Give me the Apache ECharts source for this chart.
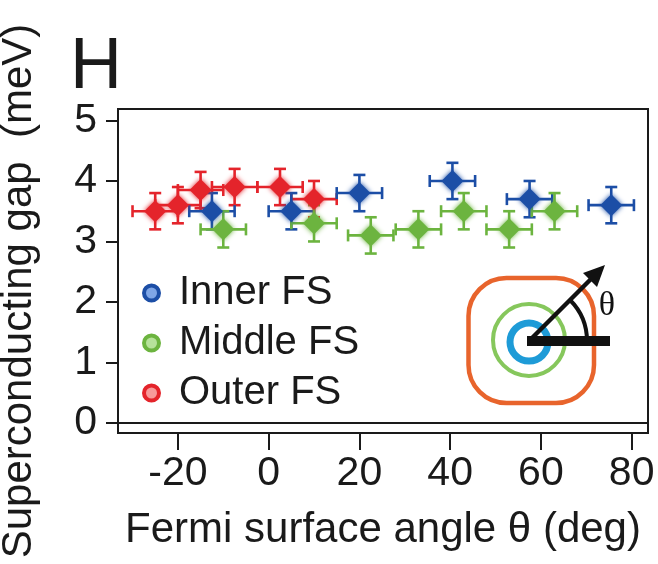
<!DOCTYPE html>
<html>
<head>
<meta charset="utf-8">
<script src="https://cdn.jsdelivr.net/npm/echarts@6/dist/echarts.min.js"></script>
<style>html,body{margin:0;padding:0;background:#fff}#c{width:658px;height:564px}</style>
</head>
<body>
<div id="c"></div>
<script>
// ---- data ----
const seriesNames = ['Inner FS', 'Middle FS', 'Outer FS'];
const innerTheta = [-12.5, 5, 20, 40.5, 57.5, 75.5];
const innerGap   = [3.5, 3.5, 3.8, 4.0, 3.7, 3.6];
const middleTheta = [-10, 10, 22.5, 33, 43, 53, 63];
const middleGap   = [3.2, 3.3, 3.1, 3.2, 3.5, 3.2, 3.5];
const outerTheta = [-25, -20, -15, -7.5, 2.5, 10];
const outerGap   = [3.5, 3.6, 3.85, 3.9, 3.9, 3.7];
const thetaErr = 5;      // deg, horizontal error bar half-width
const gapErr = 0.3;      // meV, vertical error bar half-height
const xTicks = [-20, 0, 20, 40, 60, 80];
const yTicks = [0, 1, 2, 3, 4, 5];

const colors = { 'Inner FS': '#1c4ea6', 'Middle FS': '#6cb43f', 'Outer FS': '#e4242b' };
const lightColors = { 'Inner FS': '#7fa6e6', 'Middle FS': '#b6e29a', 'Outer FS': '#f79a9a' };

function pts(th, g) { return th.map((t, i) => [t, g[i], thetaErr, gapErr]); }
const sets = [
  { name: 'Outer FS', data: pts(outerTheta, outerGap) },
  { name: 'Inner FS', data: pts(innerTheta, innerGap) },
  { name: 'Middle FS', data: pts(middleTheta, middleGap) }
];

const FONT = '"Liberation Sans", Arial, sans-serif';

function errRender(color) {
  return function (params, api) {
    const x = api.value(0), y = api.value(1), ex = api.value(2), ey = api.value(3);
    const l = api.coord([x - ex, y]), r = api.coord([x + ex, y]);
    const t = api.coord([x, y + ey]), b = api.coord([x, y - ey]);
    const cap = 6;
    const st = { stroke: color, lineWidth: 2.6 };
    return {
      type: 'group',
      children: [
        { type: 'line', shape: { x1: l[0], y1: l[1], x2: r[0], y2: r[1] }, style: st },
        { type: 'line', shape: { x1: t[0], y1: t[1], x2: b[0], y2: b[1] }, style: st },
        { type: 'line', shape: { x1: l[0], y1: l[1] - cap, x2: l[0], y2: l[1] + cap }, style: st },
        { type: 'line', shape: { x1: r[0], y1: r[1] - cap, x2: r[0], y2: r[1] + cap }, style: st },
        { type: 'line', shape: { x1: t[0] - cap, y1: t[1], x2: t[0] + cap, y2: t[1] }, style: st },
        { type: 'line', shape: { x1: b[0] - cap, y1: b[1], x2: b[0] + cap, y2: b[1] }, style: st }
      ]
    };
  };
}

const series = [];
sets.forEach(s => {
  series.push({
    name: s.name + ' err', type: 'custom', renderItem: errRender(colors[s.name]),
    data: s.data, encode: { x: 0, y: 1 }, silent: true, z: 2
  });
  series.push({
    name: s.name, type: 'scatter', data: s.data.map(d => [d[0], d[1]]),
    symbol: 'diamond', symbolSize: 22,
    itemStyle: { color: colors[s.name], shadowBlur: 5, shadowColor: colors[s.name], opacity: 1 },
    z: 3
  });
});
// zero line
series.push({
  type: 'line', data: [], markLine: {
    silent: true, symbol: 'none', label: { show: false },
    lineStyle: { color: '#1a1a1a', width: 2, type: 'solid' },
    data: [{ yAxis: 0 }]
  }
});

const chart = echarts.init(document.getElementById('c'), null, { renderer: 'canvas' });
chart.setOption({
  animation: false,
  backgroundColor: '#fff',
  grid: { left: 118, top: 109, right: 10, bottom: 131, show: true, borderColor: '#1a1a1a', borderWidth: 2, outerBoundsMode: 'none', containLabel: false },
  xAxis: {
    type: 'value', min: -33.2, max: 83.6,
    name: 'Fermi surface angle θ (deg)', nameLocation: 'middle', nameGap: 76,
    nameTextStyle: { fontFamily: FONT, fontSize: 42, color: '#1a1a1a' },
    axisLine: { show: false, onZero: false },
    axisTick: { show: true, inside: false, length: 17, customValues: xTicks, lineStyle: { color: '#1a1a1a', width: 2 } },
    axisLabel: { customValues: xTicks, margin: 20, fontFamily: FONT, fontSize: 41, color: '#1a1a1a' },
    splitLine: { show: false }
  },
  yAxis: {
    type: 'value', min: -0.167, max: 5.19,
    name: 'Superconducting gap  (meV)', nameLocation: 'middle', nameGap: 78,
    nameTextStyle: { fontFamily: FONT, fontSize: 42, color: '#1a1a1a', padding: [0, 40, 0, 0] },
    axisLine: { show: false, onZero: false },
    axisTick: { show: true, inside: false, length: 12, customValues: yTicks, lineStyle: { color: '#1a1a1a', width: 2 } },
    axisLabel: { customValues: yTicks, margin: 21, fontFamily: FONT, fontSize: 41, color: '#1a1a1a' },
    splitLine: { show: false }
  },
  legend: {
    orient: 'vertical', left: 137, top: 267, itemGap: 8,
    itemWidth: 15, itemHeight: 15, icon: 'circle',
    data: seriesNames.map(n => ({ name: n, itemStyle: { color: lightColors[n], borderColor: colors[n], borderWidth: 4 } })),
    textStyle: { fontFamily: FONT, fontSize: 40, color: '#1a1a1a', lineHeight: 42, padding: [0, 0, 0, 15] },
    selectedMode: false
  },
  title: {
    text: 'H', left: 65, top: 27,
    textStyle: { fontFamily: FONT, fontSize: 72, fontWeight: 'normal', color: '#1a1a1a' }
  },
  graphic: [
    { type: 'rect', shape: { x: 468.5, y: 278, width: 125.5, height: 125, r: 38 }, style: { fill: 'none', stroke: '#e8642c', lineWidth: 4.5 }, z: 10 },
    { type: 'circle', shape: { cx: 529, cy: 340, r: 36 }, style: { fill: 'none', stroke: '#86c75c', lineWidth: 4 }, z: 10 },
    { type: 'circle', shape: { cx: 529, cy: 342, r: 19 }, style: { fill: 'none', stroke: '#1e9bd7', lineWidth: 7 }, z: 10 },
    { type: 'arc', shape: { cx: 529, cy: 341, r: 58, startAngle: -Math.PI / 4, endAngle: 0 }, style: { fill: 'none', stroke: '#111', lineWidth: 4 }, z: 11 },
    { type: 'line', shape: { x1: 527, y1: 341, x2: 610, y2: 341 }, style: { stroke: '#111', lineWidth: 10 }, z: 11 },
    { type: 'line', shape: { x1: 529, y1: 341, x2: 593, y2: 277 }, style: { stroke: '#111', lineWidth: 4.5 }, z: 11 },
    { type: 'polygon', shape: { points: [[605, 265], [583, 273], [597, 287]] }, style: { fill: '#111' }, z: 11 },
    { type: 'text', style: { text: 'θ', x: 607, y: 306, align: 'center', verticalAlign: 'middle', font: '34px "Liberation Serif", "Times New Roman", serif', fill: '#111' }, z: 11 }
  ],
  series: series
});
</script>
</body>
</html>
